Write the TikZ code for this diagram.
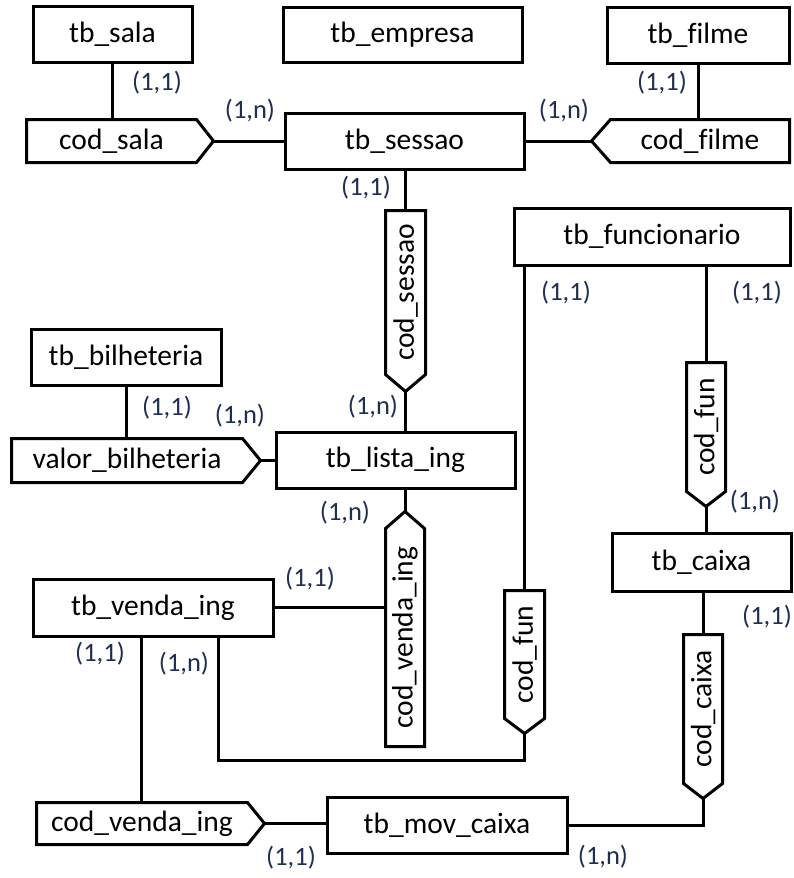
\documentclass[tikz,border=0pt]{standalone}
\usepackage{fontspec}
\usepackage{graphicx}
\setmainfont{Carlito}[Ligatures={NoCommon}]
\definecolor{cardcol}{HTML}{1F2F52}
\begin{document}
\begin{tikzpicture}[x=1pt,y=-1pt,
  line width=3pt,
  entity/.style={draw, line join=miter, inner sep=0pt, font=\fontsize{29.5}{31}\selectfont},
  relbody/.style={inner sep=0pt, font=\fontsize{29.5}{31}\selectfont},
  relline/.style={draw, line join=miter},
  card/.style={inner sep=0pt, text=cardcol, font=\fontsize{26.5}{28}\selectfont},
  conn/.style={draw, line join=miter}]
\useasboundingbox (0,0) rectangle (794,878);

% ---------- entities ----------
\node[entity, minimum width=159pt, minimum height=56pt] (sala)     at (112.5,34)  {tb\_sala};
\node[entity, minimum width=239pt, minimum height=55pt] (empresa)  at (402.5,34.5){tb\_empresa};
\node[entity, minimum width=182pt, minimum height=56pt] (filme)    at (698,35)    {tb\_filme};
\node[entity, minimum width=239pt, minimum height=56pt] (sessao)   at (404.5,141) {tb\_sessao};
\node[entity, minimum width=276pt, minimum height=57pt] (func)     at (652,236.5) {tb\_funcionario};
\node[entity, minimum width=190pt, minimum height=56pt] (bilhet)   at (126,357)   {tb\_bilheteria};
\node[entity, minimum width=239pt, minimum height=56pt] (lista)    at (395.5,460) {tb\_lista\_ing};
\node[entity, minimum width=179pt, minimum height=58pt] (caixa)    at (701.5,562) {tb\_caixa};
\node[entity, minimum width=240pt, minimum height=57pt] (venda)    at (153,607.5) {tb\_venda\_ing};
\node[entity, minimum width=240pt, minimum height=56pt] (movcaixa) at (447,825)   {tb\_mov\_caixa};

% ---------- key boxes (body + pointed end) ----------
% horizontal, pointing right
\node[relbody, minimum width=167pt, minimum height=40pt] (codsala) at (111.5,141) {cod\_sala};
\draw[relline] (codsala.north west) -- (codsala.north east) -- ([xshift=17pt]codsala.east)
  -- (codsala.south east) -- (codsala.south west) -- cycle;
\coordinate (codsala-tip) at ([xshift=17pt]codsala.east);

\node[relbody, minimum width=228pt, minimum height=41pt] (valor) at (127,460.5) {valor\_bilheteria};
\draw[relline] (valor.north west) -- (valor.north east) -- ([xshift=18pt]valor.east)
  -- (valor.south east) -- (valor.south west) -- cycle;
\coordinate (valor-tip) at ([xshift=18pt]valor.east);

\node[relbody, minimum width=208pt, minimum height=39pt] (cvb) at (142,823.5) {cod\_venda\_ing};
\draw[relline] (cvb.north west) -- (cvb.north east) -- ([xshift=17pt]cvb.east)
  -- (cvb.south east) -- (cvb.south west) -- cycle;
\coordinate (cvb-tip) at ([xshift=17pt]cvb.east);

% horizontal, pointing left
\node[relbody, minimum width=176pt, minimum height=40pt] (codfilme) at (700,141) {cod\_filme};
\draw[relline] (codfilme.north east) -- (codfilme.north west) -- ([xshift=-19pt]codfilme.west)
  -- (codfilme.south west) -- (codfilme.south east) -- cycle;
\coordinate (codfilme-tip) at ([xshift=-19pt]codfilme.west);

% vertical, pointing down
\node[relbody, minimum width=37pt, minimum height=161pt] (codsessao) at (405.5,292.5) {\rotatebox{90}{cod\_sessao}};
\draw[relline] (codsessao.north west) -- (codsessao.north east) -- (codsessao.south east)
  -- ([yshift=-17pt]codsessao.south) -- (codsessao.south west) -- cycle;
\coordinate (codsessao-tip) at ([yshift=-17pt]codsessao.south);

\node[relbody, minimum width=36pt, minimum height=126pt] (cfu) at (706,427) {\rotatebox{90}{cod\_fun}};
\draw[relline] (cfu.north west) -- (cfu.north east) -- (cfu.south east)
  -- ([yshift=-15pt]cfu.south) -- (cfu.south west) -- cycle;
\coordinate (cfu-tip) at ([yshift=-15pt]cfu.south);

\node[relbody, minimum width=37pt, minimum height=125pt] (cfl) at (524.5,654.5) {\rotatebox{90}{cod\_fun}};
\draw[relline] (cfl.north west) -- (cfl.north east) -- (cfl.south east)
  -- ([yshift=-15pt]cfl.south) -- (cfl.south west) -- cycle;
\coordinate (cfl-tip) at ([yshift=-15pt]cfl.south);

\node[relbody, minimum width=36pt, minimum height=146pt] (ccx) at (703,709) {\rotatebox{90}{cod\_caixa}};
\draw[relline] (ccx.north west) -- (ccx.north east) -- (ccx.south east)
  -- ([yshift=-15pt]ccx.south) -- (ccx.south west) -- cycle;
\coordinate (ccx-tip) at ([yshift=-15pt]ccx.south);

% vertical, pointing up
\node[relbody, minimum width=36pt, minimum height=215pt] (cvv) at (405,637.5) {\rotatebox{90}{cod\_venda\_ing}};
\draw[relline] (cvv.south west) -- (cvv.south east) -- (cvv.north east)
  -- ([yshift=17pt]cvv.north) -- (cvv.north west) -- cycle;
\coordinate (cvv-tip) at ([yshift=17pt]cvv.north);

% ---------- connectors ----------
\draw[conn] (sala.south) -- (sala.south |- codsala.north);
\draw[conn] (codsala-tip) -- (codsala-tip -| sessao.west);
\draw[conn] (filme.south) -- (filme.south |- codfilme.north);
\draw[conn] (codfilme-tip) -- (codfilme-tip -| sessao.east);
\draw[conn] (codsessao.north) -- (codsessao.north |- sessao.south);
\draw[conn] (codsessao-tip) -- (codsessao-tip |- lista.north);
\draw[conn] (bilhet.south) -- (bilhet.south |- valor.north);
\draw[conn] (valor-tip) -- (valor-tip -| lista.west);
\draw[conn] (cvv-tip) -- (cvv-tip |- lista.south);
\draw[conn] (venda.east) -- (venda.east -| cvv.west);
\draw[conn] (cfl.north) -- (cfl.north |- func.south);
\coordinate (loopcorner) at (218,760);
\draw[conn] (cfl-tip) |- (loopcorner) -- (loopcorner |- venda.south);
\draw[conn] (cfu.north) -- (cfu.north |- func.south);
\draw[conn] (cfu-tip) -- (cfu-tip |- caixa.north);
\draw[conn] (ccx.north) -- (ccx.north |- caixa.south);
\draw[conn] (ccx-tip) |- (movcaixa.east);
\draw[conn] ([xshift=-12pt]venda.south) -- ([xshift=-12pt]venda.south |- cvb.north);
\draw[conn] (cvb-tip) -- (cvb-tip -| movcaixa.west);

% ---------- cardinalities ----------
\node[card] (c1)  at (157,83)  {(1,1)};
\node[card] (c2)  at (250,111) {(1,n)};
\node[card] (c3)  at (564,111) {(1,n)};
\node[card] (c4)  at (662,83)  {(1,1)};
\node[card] (c5)  at (366,188) {(1,1)};
\node[card] (c6)  at (566,293) {(1,1)};
\node[card] (c7)  at (757,293) {(1,1)};
\node[card] (c8)  at (373,407) {(1,n)};
\node[card] (c9)  at (240,416) {(1,n)};
\node[card] (c10) at (167,408) {(1,1)};
\node[card] (c11) at (755,502) {(1,n)};
\node[card] (c12) at (345,513) {(1,n)};
\node[card] (c13) at (310,579) {(1,1)};
\node[card] (c14) at (767,617) {(1,1)};
\node[card] (c15) at (100,654) {(1,1)};
\node[card] (c16) at (184,664) {(1,n)};
\node[card] (c17) at (291,858) {(1,1)};
\node[card] (c18) at (603,857) {(1,n)};
\end{tikzpicture}
\end{document}
